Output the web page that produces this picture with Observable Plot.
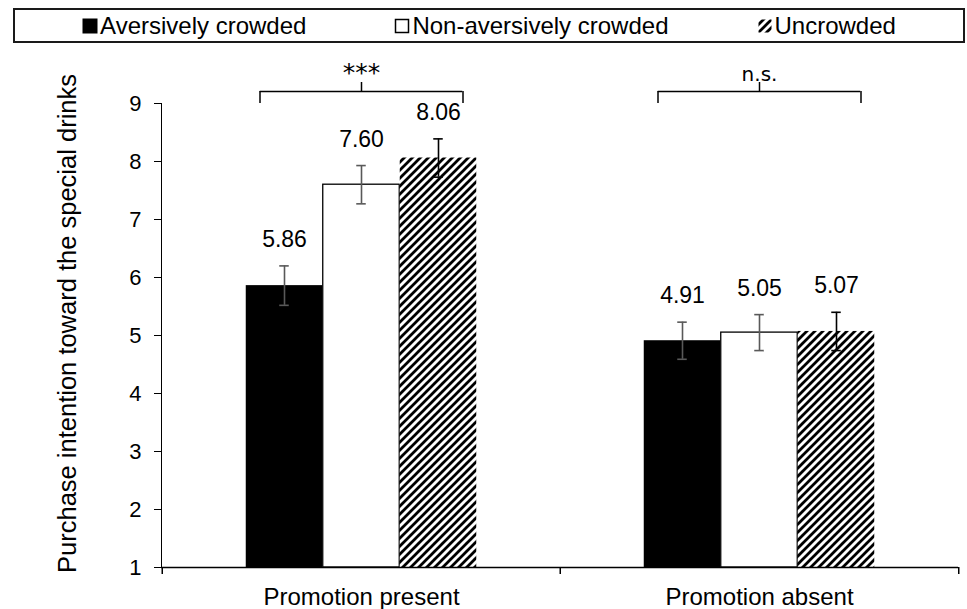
<!DOCTYPE html>
<html><head><meta charset="utf-8">
<script src="https://cdn.jsdelivr.net/npm/d3@7"></script>
<script src="https://cdn.jsdelivr.net/npm/@observablehq/plot@0.6"></script>
<style>
html,body{margin:0;padding:0;background:#fff;overflow:hidden;}
body{width:967px;height:609px;position:relative;font-family:"Liberation Sans",Arial,sans-serif;color:#000;}
#legend{position:absolute;left:13px;top:8px;width:948px;height:31px;border:2px solid #1a1a1a;display:flex;justify-content:center;align-items:center;gap:88px;font-size:24px;line-height:1;}
.item{display:flex;align-items:center;white-space:nowrap;}
.item svg{margin-right:2px;}
#chart{position:absolute;left:0;top:50px;}
#chart g[aria-label^="x-axis"] text{font-size:24px;}
</style></head><body>
<svg width="0" height="0" style="position:absolute"><defs>
<pattern id="hatch" patternUnits="userSpaceOnUse" width="8" height="8">
<rect width="8" height="8" fill="#fff"/>
<path d="M-2,2 L2,-2 M0,8 L8,0 M6,10 L10,6" stroke="#000" stroke-width="2.8"/>
</pattern></defs></svg>
<div id="legend"></div>
<div id="chart"></div>
<script>
// ---- data ----
const groups = ["Promotion present", "Promotion absent"];
const series = ["Aversively crowded", "Non-aversively crowded", "Uncrowded"];
const presentMeans = [5.86, 7.60, 8.06];
const absentMeans = [4.91, 5.05, 5.07];
const presentSE = [0.34, 0.33, 0.33];
const absentSE = [0.32, 0.31, 0.33];
const yTicks = [1, 2, 3, 4, 5, 6, 7, 8, 9];
const significance = ["***", "n.s."];
const yTitle = "Purchase intention toward the special drinks";

// ---- styles ----
const fills = ["#000", "#fff", "url(#hatch)"];
const strokes = ["none", "#000", "none"];
const errColors = ["#595959", "#595959", "#000"];

const rows = [];
groups.forEach((g, gi) => {
  const means = gi === 0 ? presentMeans : absentMeans;
  const ses = gi === 0 ? presentSE : absentSE;
  series.forEach((s, si) => rows.push({group: g, series: s, mean: means[si], se: ses[si]}));
});
const brackets = groups.map((g, i) => ({group: g, label: significance[i]}));

// ---- layout ----
const W = 967, H = 559, mL = 161, mR = 9, mT = 53, mB = 42;
const bw = (W - mL - mR) / groups.length;
const barW = 77;
const outer = (bw - barW * series.length) / 2;
const capHalf = 5;
const bracketHalf = 101.5;

const marks = [];
series.forEach((s, i) => {
  const data = rows.filter(d => d.series === s);
  const left = outer + i * barW, right = bw - left - barW;
  marks.push(Plot.barY(data, {x: "group", y1: 1, y2: "mean", fill: fills[i], stroke: strokes[i], strokeWidth: 1.3, insetLeft: left, insetRight: right}));
});
series.forEach((s, i) => {
  const data = rows.filter(d => d.series === s);
  const left = outer + i * barW, right = bw - left - barW;
  const off = left + barW / 2 - bw / 2;
  const il = left + barW / 2 - capHalf, ir = right + barW / 2 - capHalf;
  marks.push(Plot.ruleX(data, {x: "group", y1: d => d.mean - d.se, y2: d => d.mean + d.se, dx: off, stroke: errColors[i], strokeWidth: 1.6}));
  marks.push(Plot.tickY(data, {x: "group", y: d => d.mean + d.se, insetLeft: il, insetRight: ir, stroke: errColors[i], strokeWidth: 1.6}));
  marks.push(Plot.tickY(data, {x: "group", y: d => d.mean - d.se, insetLeft: il, insetRight: ir, stroke: errColors[i], strokeWidth: 1.6}));
  marks.push(Plot.text(data, {x: "group", y: d => d.mean + d.se, text: d => d.mean.toFixed(2), dx: off, dy: -19, lineAnchor: "bottom", fontSize: 23, fill: "#000"}));
});
// axis baseline and category boundary ticks
marks.push(Plot.ruleY([1], {stroke: "#000", strokeWidth: 1.5}));
marks.push(Plot.ruleX(groups, {x: d => d, y1: 1, y2: 1, dx: -bw / 2, insetTop: 7, stroke: "#000", strokeWidth: 1.5}));
marks.push(Plot.ruleX([groups[groups.length - 1]], {x: d => d, y1: 1, y2: 1, dx: bw / 2, insetTop: 7, stroke: "#000", strokeWidth: 1.5}));
// significance brackets
const bi = bw / 2 - bracketHalf;
marks.push(Plot.tickY(brackets, {x: "group", y: 9, dy: -12, insetLeft: bi, insetRight: bi, stroke: "#000", strokeWidth: 1.5}));
marks.push(Plot.ruleX(brackets, {x: "group", y1: 9, y2: 9, dx: -bracketHalf, insetBottom: 12, stroke: "#000", strokeWidth: 1.5}));
marks.push(Plot.ruleX(brackets, {x: "group", y1: 9, y2: 9, dx: bracketHalf, insetBottom: 12, stroke: "#000", strokeWidth: 1.5}));
marks.push(Plot.ruleX(brackets, {x: "group", y1: 9, y2: 9, dy: -12, insetBottom: 9, stroke: "#000", strokeWidth: 1.5}));
marks.push(Plot.text(brackets, {x: "group", y: 9, text: "label", dy: -23, lineAnchor: "bottom", fontFamily: '"DejaVu Sans", sans-serif', fontSize: d => d.label === "***" ? 25 : 20, fill: "#000"}));
// y title
marks.push(Plot.text([yTitle], {text: d => d, frameAnchor: "left", rotate: -90, dx: -86, dy: -12, textAnchor: "middle", lineAnchor: "bottom", fontSize: 25.5, fill: "#000"}));

const plot = Plot.plot({
  width: W, height: H,
  marginLeft: mL, marginRight: mR, marginTop: mT, marginBottom: mB,
  style: {fontFamily: '"Liberation Sans", Arial, sans-serif', fontSize: "22px", color: "#000", background: "#fff", overflow: "visible"},
  x: {domain: groups, padding: 0, axis: "bottom", tickSize: 0, tickPadding: 20, label: null},
  y: {domain: [1, 9], ticks: yTicks, tickSize: 7, tickPadding: 13, line: true, label: null},
  marks
});
document.getElementById("chart").appendChild(plot);

// legend
const legend = document.getElementById("legend");
series.forEach((s, i) => {
  const item = document.createElement("div");
  item.className = "item";
  let sw;
  if (i === 0) sw = '<svg width="16" height="16"><rect x="0.5" y="0.5" width="15" height="15" fill="#000"/></svg>';
  else if (i === 1) sw = '<svg width="16" height="16"><rect x="1.5" y="1.5" width="13" height="13" fill="#fff" stroke="#000" stroke-width="1.5"/></svg>';
  else sw = '<svg width="16" height="16"><rect x="1.5" y="1.5" width="13" height="13" fill="url(#hatch)"/></svg>';
  item.innerHTML = sw + "<span>" + s + "</span>";
  legend.appendChild(item);
});
</script>
</body></html>
